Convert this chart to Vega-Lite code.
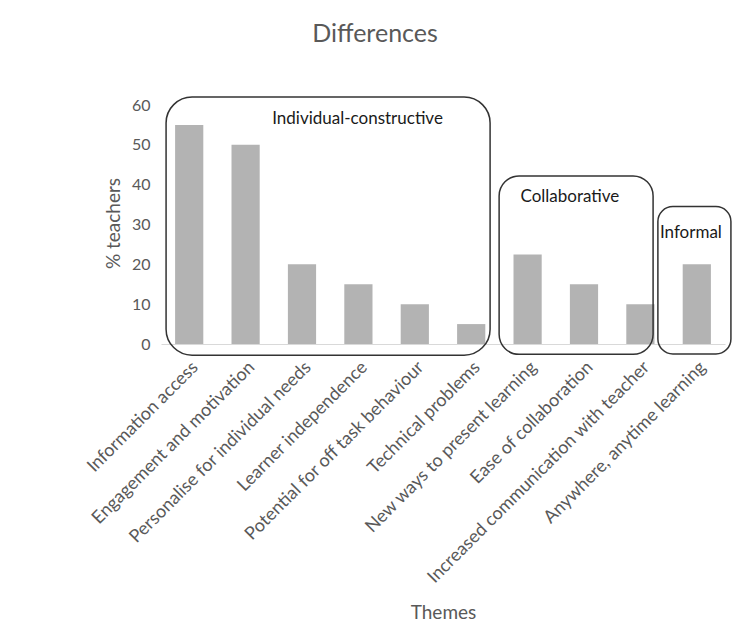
{
  "$schema": "https://vega.github.io/schema/vega-lite/v6.json",
  "autosize": "none",
  "width": 564,
  "height": 239,
  "padding": {"left": 161, "top": 105, "right": 7, "bottom": 279},
  "background": "white",
  "config": {"view": {"stroke": null}, "font": "Lato",
    "axisY": {"labelOverlap": false, "tickCount": 7, "values": [0, 10, 20, 30, 40, 50, 60]}},
  "title": {"text": "Differences", "fontSize": 25, "font": "Lato", "fontWeight": "normal", "color": "#595959", "anchor": "middle", "frame": "group", "dx": -68, "offset": 49},
  "datasets": {
    "bars": [
      {"theme": "Information access", "pct": 55},
      {"theme": "Engagement and motivation", "pct": 50},
      {"theme": "Personalise for individual needs", "pct": 20},
      {"theme": "Learner independence", "pct": 15},
      {"theme": "Potential for off task behaviour", "pct": 10},
      {"theme": "Technical problems", "pct": 5},
      {"theme": "New ways to present learning", "pct": 22.5},
      {"theme": "Ease of collaboration", "pct": 15},
      {"theme": "Increased communication with teacher", "pct": 10},
      {"theme": "Anywhere, anytime learning", "pct": 20}
    ],
    "groups": [
      {"group": "Individual-constructive", "first": "Information access", "last": "Technical problems", "top": 62, "bottom": -2.8, "labelAt": "Learner independence", "labelY": 56.4},
      {"group": "Collaborative", "first": "New ways to present learning", "last": "Increased communication with teacher", "top": 42.2, "bottom": -2.6, "labelAt": "Ease of collaboration", "labelY": 37},
      {"group": "Informal", "first": "Anywhere, anytime learning", "last": "Anywhere, anytime learning", "top": 34.5, "bottom": -2.5, "labelAt": "Anywhere, anytime learning", "labelY": 27.8}
    ]
  },
  "layer": [
    {
      "data": {"name": "bars"},
      "mark": {"type": "bar", "color": "#b3b3b3"},
      "encoding": {
        "x": {"field": "theme", "type": "nominal", "sort": null,
          "scale": {"paddingInner": 0.5, "paddingOuter": 0.25,
            "domain": ["Information access", "Engagement and motivation", "Personalise for individual needs", "Learner independence", "Potential for off task behaviour", "Technical problems", "New ways to present learning", "Ease of collaboration", "Increased communication with teacher", "Anywhere, anytime learning"]},
          "axis": {"title": "Themes", "titleFontSize": 19, "titleColor": "#595959", "titleFontWeight": "normal", "titleFont": "Lato", "titleY": 268, "titleBaseline": "middle",
            "labelAngle": -45, "labelFontSize": 18, "labelColor": "#595959", "labelFont": "Lato", "labelLimit": 400, "labelPadding": 14,
            "domainColor": "#d9d9d9", "domainWidth": 1, "ticks": false}},
        "y": {"field": "pct", "type": "quantitative",
          "scale": {"domain": [0, 60], "nice": false},
          "axis": {"title": "% teachers", "values": [0, 10, 20, 30, 40, 50, 60], "labelOverlap": false, "titleFontSize": 19, "titleColor": "#595959", "titleFontWeight": "normal", "titleFont": "Lato", "titleX": -48, "titleY": 118, "titleBaseline": "middle",
            "labelFontSize": 16, "labelColor": "#595959", "labelFont": "Lato", "labelPadding": 11, "domain": false, "ticks": false, "grid": false}}
      }
    },
    {
      "data": {"name": "groups"},
      "transform": [{"filter": "datum.group === 'Individual-constructive'"}],
      "mark": {"type": "rect", "fill": null, "fillOpacity": 0, "stroke": "#333333", "strokeWidth": 1.5, "cornerRadius": 26},
      "encoding": {
        "x": {"field": "first", "type": "nominal", "bandPosition": -0.32},
        "x2": {"field": "last", "bandPosition": 1.17},
        "y": {"field": "top", "type": "quantitative", "axis": {"values": [0, 10, 20, 30, 40, 50, 60], "labelOverlap": false}},
        "y2": {"field": "bottom"}
      }
    },
    {
      "data": {"name": "groups"},
      "transform": [{"filter": "datum.group === 'Collaborative'"}],
      "mark": {"type": "rect", "fill": null, "fillOpacity": 0, "stroke": "#333333", "strokeWidth": 1.5, "cornerRadius": 20},
      "encoding": {
        "x": {"field": "first", "type": "nominal", "bandPosition": -0.51},
        "x2": {"field": "last", "bandPosition": 0.95},
        "y": {"field": "top", "type": "quantitative", "axis": {"values": [0, 10, 20, 30, 40, 50, 60], "labelOverlap": false}},
        "y2": {"field": "bottom"}
      }
    },
    {
      "data": {"name": "groups"},
      "transform": [{"filter": "datum.group === 'Informal'"}],
      "mark": {"type": "rect", "fill": null, "fillOpacity": 0, "stroke": "#333333", "strokeWidth": 1.5, "cornerRadius": 15},
      "encoding": {
        "x": {"field": "first", "type": "nominal", "bandPosition": -0.88},
        "x2": {"field": "last", "bandPosition": 1.71},
        "y": {"field": "top", "type": "quantitative", "axis": {"values": [0, 10, 20, 30, 40, 50, 60], "labelOverlap": false}},
        "y2": {"field": "bottom"}
      }
    },
    {
      "data": {"name": "groups"},
      "transform": [{"filter": "datum.group === 'Individual-constructive'"}],
      "mark": {"type": "text", "fontSize": 17, "font": "Lato", "color": "#1a1a1a", "align": "center", "baseline": "middle"},
      "encoding": {
        "x": {"field": "labelAt", "type": "nominal", "bandPosition": 0.47},
        "y": {"field": "labelY", "type": "quantitative", "axis": {"values": [0, 10, 20, 30, 40, 50, 60], "labelOverlap": false}},
        "text": {"field": "group"}
      }
    },
    {
      "data": {"name": "groups"},
      "transform": [{"filter": "datum.group === 'Collaborative'"}],
      "mark": {"type": "text", "fontSize": 17, "font": "Lato", "color": "#1a1a1a", "align": "center", "baseline": "middle"},
      "encoding": {
        "x": {"field": "labelAt", "type": "nominal", "bandPosition": 0},
        "y": {"field": "labelY", "type": "quantitative", "axis": {"values": [0, 10, 20, 30, 40, 50, 60], "labelOverlap": false}},
        "text": {"field": "group"}
      }
    },
    {
      "data": {"name": "groups"},
      "transform": [{"filter": "datum.group === 'Informal'"}],
      "mark": {"type": "text", "fontSize": 17, "font": "Lato", "color": "#1a1a1a", "align": "center", "baseline": "middle"},
      "encoding": {
        "x": {"field": "labelAt", "type": "nominal", "bandPosition": 0.29},
        "y": {"field": "labelY", "type": "quantitative", "axis": {"values": [0, 10, 20, 30, 40, 50, 60], "labelOverlap": false}},
        "text": {"field": "group"}
      }
    }
  ]
}
